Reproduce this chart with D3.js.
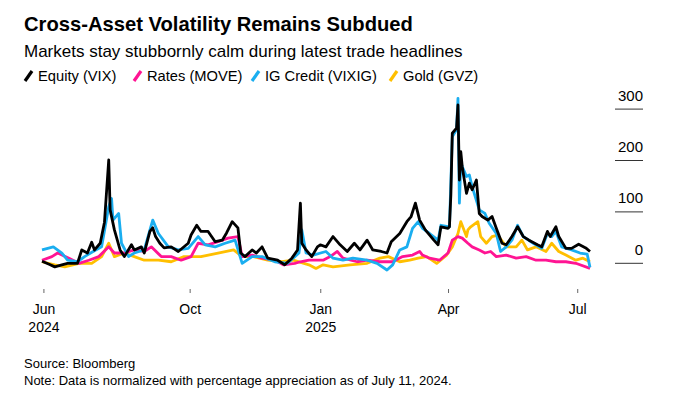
<!DOCTYPE html>
<html>
<head>
<meta charset="utf-8">
<script src="https://cdn.jsdelivr.net/npm/d3@7"></script>
<style>
  body { margin: 0; background: #fff; }
  svg text { font-family: "Liberation Sans", Arial, sans-serif; fill: #000; }
</style>
</head>
<body>
<div id="chart"></div>
<script>
// series names + colours (legend order)
var seriesNames = ['Equity (VIX)', 'Rates (MOVE)', 'IG Credit (VIXIG)', 'Gold (GVZ)'];
var seriesColors = ['#000000', '#ff1493', '#1aaef0', '#ffbf00'];

// values, % change vs Jul 11 2024
var vix = [
  ['2024-06-19', 4], ['2024-06-24', -2], ['2024-06-28', -7], ['2024-07-03', -3], ['2024-07-07', 0],
  ['2024-07-14', 0], ['2024-07-17', 26], ['2024-07-21', 20], ['2024-07-24', 41], ['2024-07-26', 26],
  ['2024-07-30', 39], ['2024-08-02', 80], ['2024-08-05', 201], ['2024-08-06', 104], ['2024-08-09', 65],
  ['2024-08-13', 26], ['2024-08-16', 13], ['2024-08-21', 36], ['2024-08-23', 26], ['2024-08-28', 32],
  ['2024-08-30', 20], ['2024-09-03', 62], ['2024-09-05', 69], ['2024-09-07', 52], ['2024-09-10', 39],
  ['2024-09-13', 30], ['2024-09-18', 32], ['2024-09-23', 23], ['2024-09-30', 39], ['2024-10-02', 55],
  ['2024-10-06', 74], ['2024-10-09', 62], ['2024-10-14', 62], ['2024-10-19', 42], ['2024-10-24', 45],
  ['2024-10-27', 59], ['2024-10-31', 81], ['2024-11-04', 69], ['2024-11-06', 20], ['2024-11-09', 13],
  ['2024-11-14', 26], ['2024-11-17', 20], ['2024-11-21', 32], ['2024-11-25', 10], ['2024-12-02', 6],
  ['2024-12-07', -3], ['2024-12-12', 10], ['2024-12-16', 26], ['2024-12-18', 117], ['2024-12-19', 39],
  ['2024-12-22', 26], ['2024-12-26', 13], ['2024-12-30', 32], ['2025-01-01', 36], ['2025-01-05', 32],
  ['2025-01-10', 52], ['2025-01-15', 36], ['2025-01-20', 23], ['2025-01-25', 39], ['2025-01-29', 26],
  ['2025-02-03', 45], ['2025-02-07', 26], ['2025-02-13', 23], ['2025-02-17', 20], ['2025-02-20', 42],
  ['2025-02-26', 58], ['2025-03-03', 81], ['2025-03-06', 91], ['2025-03-09', 117], ['2025-03-12', 84],
  ['2025-03-16', 65], ['2025-03-22', 45], ['2025-03-25', 36], ['2025-03-27', 71], ['2025-04-01', 68],
  ['2025-04-02', 71], ['2025-04-03', 134], ['2025-04-04', 253], ['2025-04-07', 263], ['2025-04-08', 308],
  ['2025-04-09', 162], ['2025-04-10', 217], ['2025-04-11', 188], ['2025-04-14', 136], ['2025-04-16', 156],
  ['2025-04-18', 143], ['2025-04-21', 162], ['2025-04-23', 97], ['2025-04-25', 91], ['2025-04-29', 84],
  ['2025-05-02', 91], ['2025-05-05', 68], ['2025-05-09', 39], ['2025-05-12', 36], ['2025-05-16', 52],
  ['2025-05-20', 71], ['2025-05-24', 52], ['2025-05-28', 45], ['2025-06-03', 36], ['2025-06-06', 32],
  ['2025-06-10', 62], ['2025-06-12', 52], ['2025-06-16', 71], ['2025-06-18', 52], ['2025-06-23', 29],
  ['2025-06-27', 29], ['2025-07-02', 37], ['2025-07-07', 30], ['2025-07-10', 23]
];

var move = [
  ['2024-06-19', 6], ['2024-06-26', 13], ['2024-06-30', 20], ['2024-07-08', 10], ['2024-07-15', 0],
  ['2024-07-22', 6], ['2024-07-29', 13], ['2024-08-05', 32], ['2024-08-09', 20], ['2024-08-16', 20],
  ['2024-08-23', 26], ['2024-08-30', 23], ['2024-09-04', 32], ['2024-09-11', 13], ['2024-09-18', 13],
  ['2024-09-25', 6], ['2024-10-02', 13], ['2024-10-07', 39], ['2024-10-14', 36], ['2024-10-21', 42],
  ['2024-10-28', 49], ['2024-11-04', 52], ['2024-11-07', 13], ['2024-11-14', 16], ['2024-11-21', 10],
  ['2024-11-30', 6], ['2024-12-06', -3], ['2024-12-14', 0], ['2024-12-18', 3], ['2024-12-24', 6],
  ['2024-12-29', 6], ['2025-01-03', 6], ['2025-01-08', 13], ['2025-01-13', 23], ['2025-01-17', 10],
  ['2025-01-27', 3], ['2025-02-03', 6], ['2025-02-12', 3], ['2025-02-21', 3], ['2025-02-28', 13],
  ['2025-03-07', 16], ['2025-03-12', 23], ['2025-03-14', 16], ['2025-03-19', 10], ['2025-03-26', 6],
  ['2025-04-01', 20], ['2025-04-04', 45], ['2025-04-08', 52], ['2025-04-11', 49], ['2025-04-15', 39],
  ['2025-04-18', 32], ['2025-04-23', 26], ['2025-04-27', 20], ['2025-05-01', 23], ['2025-05-05', 13],
  ['2025-05-12', 16], ['2025-05-19', 10], ['2025-05-26', 13], ['2025-06-02', 6], ['2025-06-09', 6],
  ['2025-06-16', 3], ['2025-06-23', 3], ['2025-06-30', 0], ['2025-07-10', -10]
];

var vixig = [
  ['2024-06-19', 26], ['2024-06-27', 32], ['2024-07-03', 20], ['2024-07-07', 6], ['2024-07-14', 3],
  ['2024-07-19', 13], ['2024-07-25', 23], ['2024-07-31', 32], ['2024-08-05', 110], ['2024-08-07', 126],
  ['2024-08-08', 84], ['2024-08-12', 97], ['2024-08-14', 39], ['2024-08-19', 13], ['2024-08-23', 20],
  ['2024-08-30', 26], ['2024-09-05', 84], ['2024-09-09', 58], ['2024-09-16', 32], ['2024-09-23', 26],
  ['2024-09-30', 29], ['2024-10-07', 52], ['2024-10-12', 36], ['2024-10-19', 32], ['2024-10-26', 39],
  ['2024-11-02', 45], ['2024-11-07', 0], ['2024-11-14', 13], ['2024-11-21', 13], ['2024-11-30', 3],
  ['2024-12-09', 0], ['2024-12-17', 20], ['2024-12-19', 65], ['2024-12-22', 20], ['2024-12-27', 16],
  ['2025-01-05', 23], ['2025-01-10', 10], ['2025-01-17', 6], ['2025-01-24', 10], ['2025-02-03', 6],
  ['2025-02-10', 0], ['2025-02-17', -13], ['2025-02-21', -3], ['2025-02-26', 26], ['2025-03-03', 32],
  ['2025-03-07', 68], ['2025-03-11', 81], ['2025-03-14', 68], ['2025-03-19', 58], ['2025-03-25', 45],
  ['2025-03-27', 74], ['2025-04-02', 71], ['2025-04-04', 246], ['2025-04-07', 260], ['2025-04-08', 321],
  ['2025-04-09', 117], ['2025-04-10', 195], ['2025-04-14', 169], ['2025-04-16', 172], ['2025-04-18', 149],
  ['2025-04-23', 104], ['2025-04-27', 97], ['2025-04-30', 78], ['2025-05-05', 58], ['2025-05-08', 23],
  ['2025-05-12', 32], ['2025-05-16', 45], ['2025-05-20', 74], ['2025-05-24', 52], ['2025-05-31', 39],
  ['2025-06-06', 29], ['2025-06-10', 58], ['2025-06-13', 52], ['2025-06-16', 62], ['2025-06-20', 32],
  ['2025-06-27', 26], ['2025-07-03', 20], ['2025-07-08', 18], ['2025-07-10', -8]
];

var gvz = [
  ['2024-06-19', 3], ['2024-06-28', -3], ['2024-07-05', -7], ['2024-07-15', 0], ['2024-07-24', 0],
  ['2024-07-31', 13], ['2024-08-05', 39], ['2024-08-09', 13], ['2024-08-16', 20], ['2024-08-23', 13],
  ['2024-08-30', 6], ['2024-09-09', 6], ['2024-09-18', 3], ['2024-09-27', 13], ['2024-10-09', 13],
  ['2024-10-21', 20], ['2024-11-01', 26], ['2024-11-07', 13], ['2024-11-15', 13], ['2024-11-25', 6],
  ['2024-12-05', 3], ['2024-12-13', 6], ['2024-12-24', -3], ['2024-12-29', -10], ['2025-01-03', -3],
  ['2025-01-10', -7], ['2025-01-22', -3], ['2025-02-03', 0], ['2025-02-12', 10], ['2025-02-18', 13],
  ['2025-02-26', 3], ['2025-03-05', 6], ['2025-03-11', 10], ['2025-03-17', 13], ['2025-03-24', 0],
  ['2025-03-31', 16], ['2025-04-04', 32], ['2025-04-08', 58], ['2025-04-10', 81], ['2025-04-14', 52],
  ['2025-04-15', 65], ['2025-04-17', 71], ['2025-04-22', 81], ['2025-04-24', 52], ['2025-04-28', 39],
  ['2025-05-02', 52], ['2025-05-06', 55], ['2025-05-12', 32], ['2025-05-19', 32], ['2025-05-23', 45],
  ['2025-05-27', 26], ['2025-06-02', 32], ['2025-06-09', 23], ['2025-06-13', 39], ['2025-06-18', 23],
  ['2025-06-23', 16], ['2025-06-30', 6], ['2025-07-05', 10], ['2025-07-10', 3]
];

// axis ticks
var yTicks = [0, 100, 200, 300];
var xTicks = ['2024-06-20', '2024-10-01', '2025-01-01', '2025-04-01', '2025-07-01'];
var xTickLabels = [['Jun', '2024'], ['Oct', ''], ['Jan', '2025'], ['Apr', ''], ['Jul', '']];

var w = 674;
var h = 395;
var parseDate = d3.timeParse('%Y-%m-%d');

var allSeries = [vix, move, vixig, gvz];

var xScale = d3.scaleTime()
  .domain([parseDate('2024-06-19'), parseDate('2025-07-10')])
  .range([42, 590]);

var yScale = d3.scaleLinear()
  .domain([0, 300])
  .range([263.3, 109.1]);

var svg = d3.select('#chart')
  .append('svg')
    .attr('width', w)
    .attr('height', h);

// title block
svg.append('text')
  .attr('x', 24)
  .attr('y', 31)
  .attr('font-size', 20.2)
  .attr('font-weight', 'bold')
  .text('Cross-Asset Volatility Remains Subdued');

svg.append('text')
  .attr('x', 24)
  .attr('y', 57)
  .attr('font-size', 17)
  .text('Markets stay stubbornly calm during latest trade headlines');

// legend
var legendX = [25, 134, 252, 390];
var legend = svg.selectAll('.legend-item')
  .data(seriesNames)
  .enter()
  .append('g')
    .attr('class', 'legend-item')
    .attr('transform', function(d, i) { return 'translate(' + legendX[i] + ',81)'; });

legend.append('line')
  .attr('x1', 0).attr('y1', 0)
  .attr('x2', 7).attr('y2', -10)
  .attr('stroke', (d, i) => seriesColors[i])
  .attr('stroke-width', 3.2);

legend.append('text')
  .attr('x', 13)
  .attr('y', 0)
  .attr('font-size', 14.7)
  .text(d => d);

// y axis: short rules under labels on the right
var yAxis = svg.append('g').attr('class', 'y-axis');

yAxis.selectAll('line')
  .data(yTicks)
  .enter()
  .append('line')
    .attr('x1', 615)
    .attr('x2', 643)
    .attr('y1', d => yScale(d))
    .attr('y2', d => yScale(d))
    .attr('stroke', '#333')
    .attr('stroke-width', 1);

yAxis.selectAll('text')
  .data(yTicks)
  .enter()
  .append('text')
    .attr('x', 643)
    .attr('y', d => yScale(d) - 8.5)
    .attr('text-anchor', 'end')
    .attr('font-size', 15)
    .text(d => d);

// x axis
var xAxis = d3.axisBottom(xScale)
  .tickValues(xTicks.map(parseDate))
  .tickSize(4)
  .tickFormat('');

var xAxisG = svg.append('g')
  .attr('class', 'x-axis')
  .attr('transform', 'translate(0,289)')
  .call(xAxis);

xAxisG.select('.domain').remove();
xAxisG.selectAll('.tick line').attr('stroke', '#666');

xAxisG.selectAll('.tick')
  .each(function(d, i) {
    var t = d3.select(this);
    t.append('text')
      .attr('y', 25)
      .attr('text-anchor', 'middle')
      .attr('font-size', 14)
      .attr('fill', '#000')
      .text(xTickLabels[i][0]);
    t.append('text')
      .attr('y', 43)
      .attr('text-anchor', 'middle')
      .attr('font-size', 14)
      .attr('fill', '#000')
      .text(xTickLabels[i][1]);
  });

// lines, drawn back to front
var line = d3.line()
  .x(d => xScale(parseDate(d[0])))
  .y(d => yScale(d[1]))
  .curve(d3.curveLinear);

var drawOrder = [3, 1, 2, 0];
svg.append('g')
  .attr('class', 'lines')
  .selectAll('path')
  .data(drawOrder)
  .enter()
  .append('path')
    .attr('d', i => line(allSeries[i]))
    .attr('fill', 'none')
    .attr('stroke', i => seriesColors[i])
    .attr('stroke-width', 2.8)
    .attr('stroke-linejoin', 'round');

// footer
svg.append('text')
  .attr('x', 24)
  .attr('y', 368)
  .attr('font-size', 13)
  .text('Source: Bloomberg');

svg.append('text')
  .attr('x', 24)
  .attr('y', 385)
  .attr('font-size', 13)
  .text('Note: Data is normalized with percentage appreciation as of July 11, 2024.');
</script>
</body>
</html>
